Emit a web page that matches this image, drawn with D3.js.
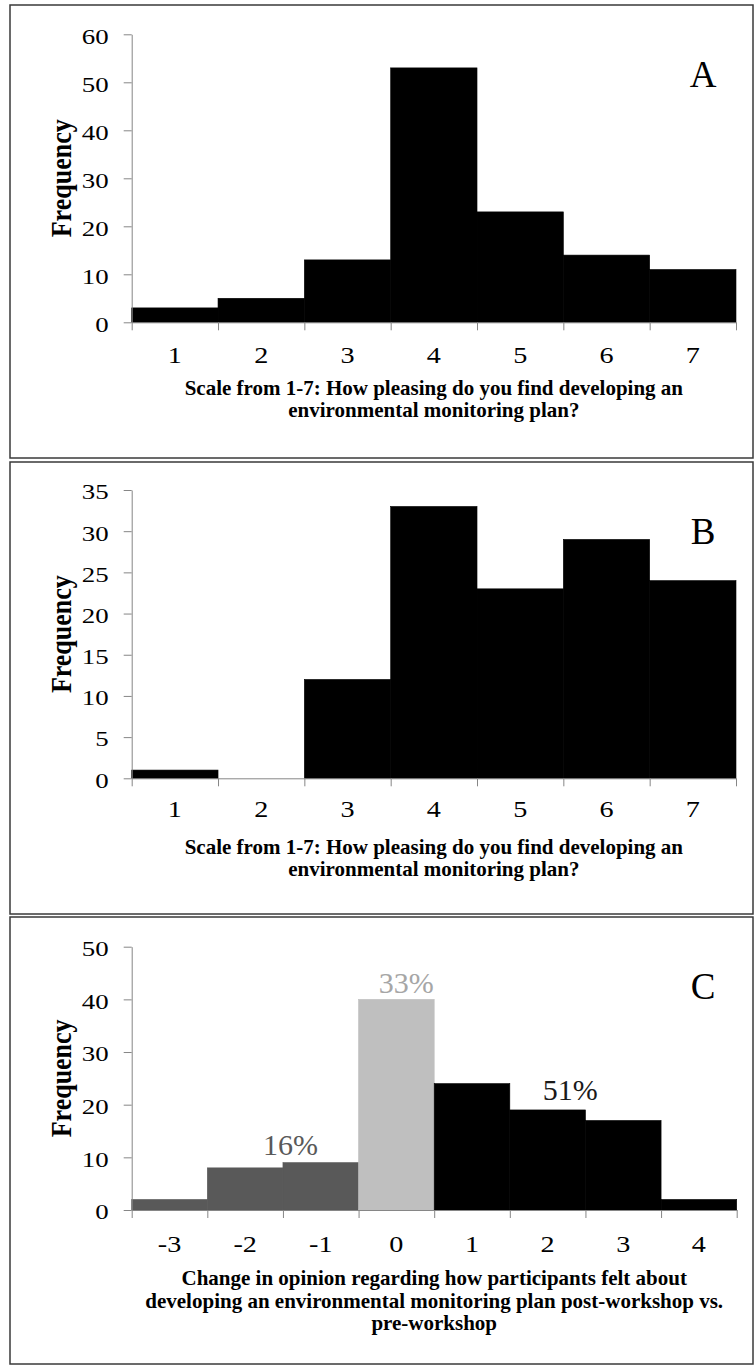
<!DOCTYPE html>
<html>
<head>
<meta charset="utf-8">
<script src="https://cdn.jsdelivr.net/npm/d3@7"></script>
<style>
  body { margin: 0; background: #fff; }
  text { font-family: "Liberation Serif", "Times New Roman", serif; }
</style>
</head>
<body>
<script>
// ---- data ----
const scaleCats = ["1", "2", "3", "4", "5", "6", "7"];
const freqA = [3, 5, 13, 53, 23, 14, 11];
const freqB = [1, 0, 12, 33, 23, 29, 24];
const yTicksA = [0, 10, 20, 30, 40, 50, 60];
const yTicksB = [0, 5, 10, 15, 20, 25, 30, 35];

const changeCats = ["-3", "-2", "-1", "0", "1", "2", "3", "4"];
const freqC = [2, 8, 9, 40, 24, 19, 17, 2];
const groupC = ["neg", "neg", "neg", "same", "pos", "pos", "pos", "pos"];
const yTicksC = [0, 10, 20, 30, 40, 50];

// percentage annotations in panel C (position in category / frequency units)
const pctText = ["16%", "33%", "51%"];
const pctGroup = ["neg", "same", "pos"];
const pctAtX = [-1.4, 0.13, 2.3];
const pctAtY = [10.4, 41.2, 20.9];

const titleAB = ["Scale from 1-7: How pleasing do you find developing an",
                 "environmental monitoring plan?"];
const titleC = ["Change in opinion regarding how participants felt about",
                "developing an environmental monitoring plan post-workshop vs.",
                "pre-workshop"];

const groupFill = { neg: "#595959", same: "#bfbfbf", pos: "#000000" };
const groupText = { neg: "#595959", same: "#a6a6a6", pos: "#1a1a1a" };

const W = 755, H = 1365;
const svg = d3.select("body").append("svg")
    .attr("width", W)
    .attr("height", H);

function drawPanel(p) {
  // frame
  svg.append("rect")
      .attr("x", 10).attr("y", p.top)
      .attr("width", 743).attr("height", p.bottom - p.top)
      .attr("fill", "none")
      .attr("stroke", "#3a3a3a")
      .attr("stroke-width", 1.5);

  const n = p.cats.length;
  const band = d3.scaleBand().domain(p.cats).range([p.x0, p.x1]).padding(0);
  const edge = d3.scaleLinear().domain([0, n]).range([p.x0, p.x1]);
  const y = d3.scaleLinear().domain([0, d3.max(p.yTicks)]).range([p.y0, p.y1]);

  // bars
  svg.append("g").selectAll("rect")
      .data(p.values)
      .join("rect")
      .attr("x", (d, i) => band(p.cats[i]))
      .attr("y", d => y(d))
      .attr("width", band.bandwidth())
      .attr("height", d => p.y0 - y(d))
      .attr("fill", (d, i) => p.fill(i))
      .attr("stroke", (d, i) => d > 0 ? p.fill(i) : "none")
      .attr("stroke-width", 0.6);

  // y axis
  const yAxis = svg.append("g")
      .attr("transform", "translate(" + p.x0 + ",0)")
      .style("color", "#868686")
      .call(d3.axisLeft(y).tickValues(p.yTicks).tickSize(8).tickSizeOuter(0));
  yAxis.selectAll("text")
      .attr("x", 0)
      .attr("dy", "0.42em")
      .attr("transform", "translate(-23,0) scale(1.28,1)")
      .style("font-size", "21px")
      .attr("fill", "#000");

  // x axis: tick marks on bin edges
  svg.append("g")
      .attr("transform", "translate(0," + p.y0 + ")")
      .style("color", "#868686")
      .call(d3.axisBottom(edge).tickValues(d3.range(n + 1)).tickFormat("").tickSize(8).tickSizeOuter(0));

  // x axis: labels in bin centres
  const xLab = svg.append("g")
      .attr("transform", "translate(0," + p.y0 + ")")
      .call(d3.axisBottom(band).tickSize(0));
  xLab.select(".domain").remove();
  xLab.selectAll("text")
      .attr("y", 0)
      .attr("dy", null)
      .attr("transform", "translate(0," + p.tickBase + ") scale(1.2,1)")
      .style("font-size", "23.5px")
      .attr("fill", "#000");

  // y title
  svg.append("text")
      .attr("transform", "translate(71," + ((p.y0 + p.y1) / 2) + ") scale(1.13,1) rotate(-90)")
      .attr("text-anchor", "middle")
      .style("font-size", "26px")
      .style("font-weight", "bold")
      .text("Frequency");

  // x title
  const cx = (p.x0 + p.x1) / 2;
  svg.append("g").selectAll("text")
      .data(p.title)
      .join("text")
      .attr("x", cx)
      .attr("y", (d, i) => p.y0 + p.titleBase + i * p.titleStep)
      .attr("text-anchor", "middle")
      .style("font-size", "21px")
      .style("font-weight", "bold")
      .text(d => d);

  // panel letter
  svg.append("text")
      .attr("x", 703)
      .attr("y", p.top + 82)
      .attr("text-anchor", "middle")
      .style("font-size", "37px")
      .text(p.letter);

  return { band, y };
}

drawPanel({
  letter: "A", top: 5, bottom: 458,
  cats: scaleCats, values: freqA, yTicks: yTicksA,
  x0: 131.7, x1: 736, y0: 322.3, y1: 34.3,
  fill: () => "#000", tickBase: 41, title: titleAB, titleBase: 72.7, titleStep: 21.5
});

drawPanel({
  letter: "B", top: 462, bottom: 914,
  cats: scaleCats, values: freqB, yTicks: yTicksB,
  x0: 131.7, x1: 736, y0: 778.3, y1: 490,
  fill: () => "#000", tickBase: 39, title: titleAB, titleBase: 76, titleStep: 21.5
});

const pc = drawPanel({
  letter: "C", top: 917, bottom: 1364,
  cats: changeCats, values: freqC, yTicks: yTicksC,
  x0: 131.7, x1: 736.7, y0: 1210, y1: 946.7,
  fill: i => groupFill[groupC[i]], tickBase: 42, title: titleC, titleBase: 75, titleStep: 22.5
});

// percentage labels for panel C
const xVal = d3.scaleLinear().domain([-3.5, 4.5]).range([131.7, 736.7]);
svg.append("g").selectAll("text")
    .data(pctText)
    .join("text")
    .attr("x", (d, i) => xVal(pctAtX[i]))
    .attr("y", (d, i) => pc.y(pctAtY[i]))
    .attr("text-anchor", "middle")
    .style("font-size", "30px")
    .attr("fill", (d, i) => groupText[pctGroup[i]])
    .text(d => d);
</script>
</body>
</html>
